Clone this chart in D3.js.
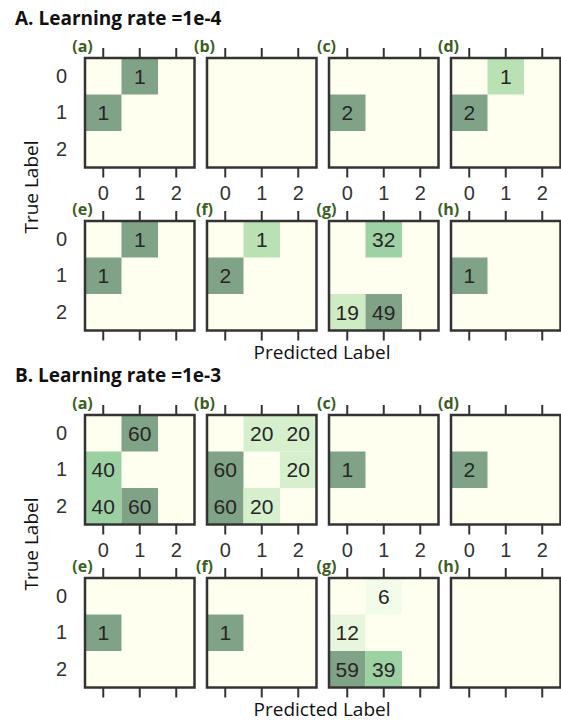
<!DOCTYPE html>
<html>
<head>
<meta charset="utf-8">
<script src="https://cdn.jsdelivr.net/npm/d3@7"></script>
<style>
  body { margin: 0; background: #fff; }
  svg { display: block; }
</style>
</head>
<body>
<div id="chart"></div>
<script>

// class labels on both axes
const classes = ["0", "1", "2"] ;
const panelTags = ["(a)", "(b)", "(c)", "(d)", "(e)", "(f)", "(g)", "(h)"] ;
const sectionTitles = ["A. Learning rate =1e-4", "B. Learning rate =1e-3"] ;

// confusion matrices, rows = true label, cols = predicted label
const lr1e4 = [
	[[0, 1, 0], [1, 0, 0], [0, 0, 0]],
	[[0, 0, 0], [0, 0, 0], [0, 0, 0]],
	[[0, 0, 0], [2, 0, 0], [0, 0, 0]],
	[[0, 1, 0], [2, 0, 0], [0, 0, 0]],
	[[0, 1, 0], [1, 0, 0], [0, 0, 0]],
	[[0, 1, 0], [2, 0, 0], [0, 0, 0]],
	[[0, 32, 0], [0, 0, 0], [19, 49, 0]],
	[[0, 0, 0], [1, 0, 0], [0, 0, 0]]
] ;

const lr1e3 = [
	[[0, 60, 0], [40, 0, 0], [40, 60, 0]],
	[[0, 20, 20], [60, 0, 20], [60, 20, 0]],
	[[0, 0, 0], [1, 0, 0], [0, 0, 0]],
	[[0, 0, 0], [2, 0, 0], [0, 0, 0]],
	[[0, 0, 0], [1, 0, 0], [0, 0, 0]],
	[[0, 0, 0], [1, 0, 0], [0, 0, 0]],
	[[0, 6, 0], [12, 0, 0], [59, 39, 0]],
	[[0, 0, 0], [0, 0, 0], [0, 0, 0]]
] ;

const sections = [lr1e4, lr1e3] ;

const width = 561 ;
const height = 721 ;

const panelSize = 109.5 ;
const panelStep = 122 ;
const firstLeft = 85 ;
const rowTops = [58, 221] ;
const sectionOffset = 357 ;

const cream = "#fffff0" ;
const ink = "#333" ;
const tagColor = "#3b5e22" ;

const svg = d3.select("#chart").append("svg")
	.attr("width", width)
	.attr("height", height) ;

const x = d3.scaleBand().domain(classes).range([0, panelSize]) ;
const y = d3.scaleBand().domain(classes).range([0, panelSize]) ;

sections.forEach(function(mats, s) {
	const sec = svg.append("g").attr("transform", "translate(0," + (s * sectionOffset) + ")") ;

	sec.append("text")
		.attr("x", 15)
		.attr("y", 25)
		.attr("font-family", "Open Sans, sans-serif")
		.attr("font-weight", "bold")
		.attr("font-size", 19)
		.attr("fill", "#111")
		.text(sectionTitles[s]) ;

	mats.forEach(function(m, i) {
		const row = Math.floor(i / 4) ;
		const col = i % 4 ;
		const left = firstLeft + col * panelStep ;
		const top = rowTops[row] ;
		const g = sec.append("g").attr("transform", "translate(" + left + "," + top + ")") ;

		const maxVal = d3.max(m.flat()) || 1 ;
		const cells = [] ;
		m.forEach(function(r, ri) {
			r.forEach(function(v, ci) {
				cells.push({ t: classes[ri], p: classes[ci], v: v }) ;
			}) ;
		}) ;

		g.append("rect")
			.attr("width", panelSize)
			.attr("height", panelSize)
			.attr("fill", cream) ;

		const filled = cells.filter(function(d) { return d.v > 0 ; }) ;

		g.selectAll("rect.cell")
			.data(filled)
			.enter().append("rect")
				.attr("class", "cell")
				.attr("x", function(d) { return x(d.p) ; })
				.attr("y", function(d) { return y(d.t) ; })
				.attr("width", x.bandwidth())
				.attr("height", y.bandwidth())
				.attr("fill", function(d) {
					return d3.interpolateRgb(cream, d3.interpolateGreens(d.v / maxVal))(0.5) ;
				}) ;

		g.selectAll("text.val")
			.data(filled)
			.enter().append("text")
				.attr("class", "val")
				.attr("x", function(d) { return x(d.p) + x.bandwidth() / 2 ; })
				.attr("y", function(d) { return y(d.t) + y.bandwidth() / 2 ; })
				.attr("dy", "0.36em")
				.attr("text-anchor", "middle")
				.attr("font-family", "Liberation Sans, Arial, sans-serif")
				.attr("font-size", 21)
				.attr("fill", "#262626")
				.text(function(d) { return d.v ; }) ;

		g.append("rect")
			.attr("width", panelSize)
			.attr("height", panelSize)
			.attr("fill", "none")
			.attr("stroke", ink)
			.attr("stroke-width", 2.5) ;

		const topAxis = g.append("g")
			.call(d3.axisTop(x).tickSize(10).tickFormat("")) ;

		const bottomAxis = g.append("g")
			.attr("transform", "translate(0," + panelSize + ")")
			.call(d3.axisBottom(x).tickSize(10).tickPadding(8)
				.tickFormat(row === 0 ? null : "")) ;

		[topAxis, bottomAxis].forEach(function(a) {
			a.select(".domain").remove() ;
			a.selectAll(".tick line").attr("stroke", ink).attr("stroke-width", 2) ;
			a.selectAll(".tick text")
				.attr("font-family", "Liberation Sans, Arial, sans-serif")
				.attr("font-size", 20)
				.attr("fill", ink) ;
		}) ;

		if (col === 0) {
			const leftAxis = g.append("g")
				.call(d3.axisLeft(y).tickSize(0).tickPadding(18)) ;
			leftAxis.select(".domain").remove() ;
			leftAxis.selectAll(".tick text")
				.attr("font-family", "Liberation Sans, Arial, sans-serif")
				.attr("font-size", 20)
				.attr("fill", ink) ;
		}

		g.append("text")
			.attr("x", -2.5)
			.attr("y", -6)
			.attr("text-anchor", "middle")
			.attr("font-family", "Open Sans, sans-serif")
			.attr("font-weight", "bold")
			.attr("font-size", 16)
			.attr("fill", tagColor)
			.text(panelTags[i]) ;
	}) ;

	sec.append("text")
		.attr("transform", "translate(38,187) rotate(-90)")
		.attr("text-anchor", "middle")
		.attr("font-family", "Open Sans, sans-serif")
		.attr("font-size", 19)
		.attr("fill", "#111")
		.text("True Label") ;

	sec.append("text")
		.attr("x", 322)
		.attr("y", 359)
		.attr("text-anchor", "middle")
		.attr("font-family", "Open Sans, sans-serif")
		.attr("font-size", 19)
		.attr("fill", "#111")
		.text("Predicted Label") ;
}) ;

</script>
</body>
</html>
